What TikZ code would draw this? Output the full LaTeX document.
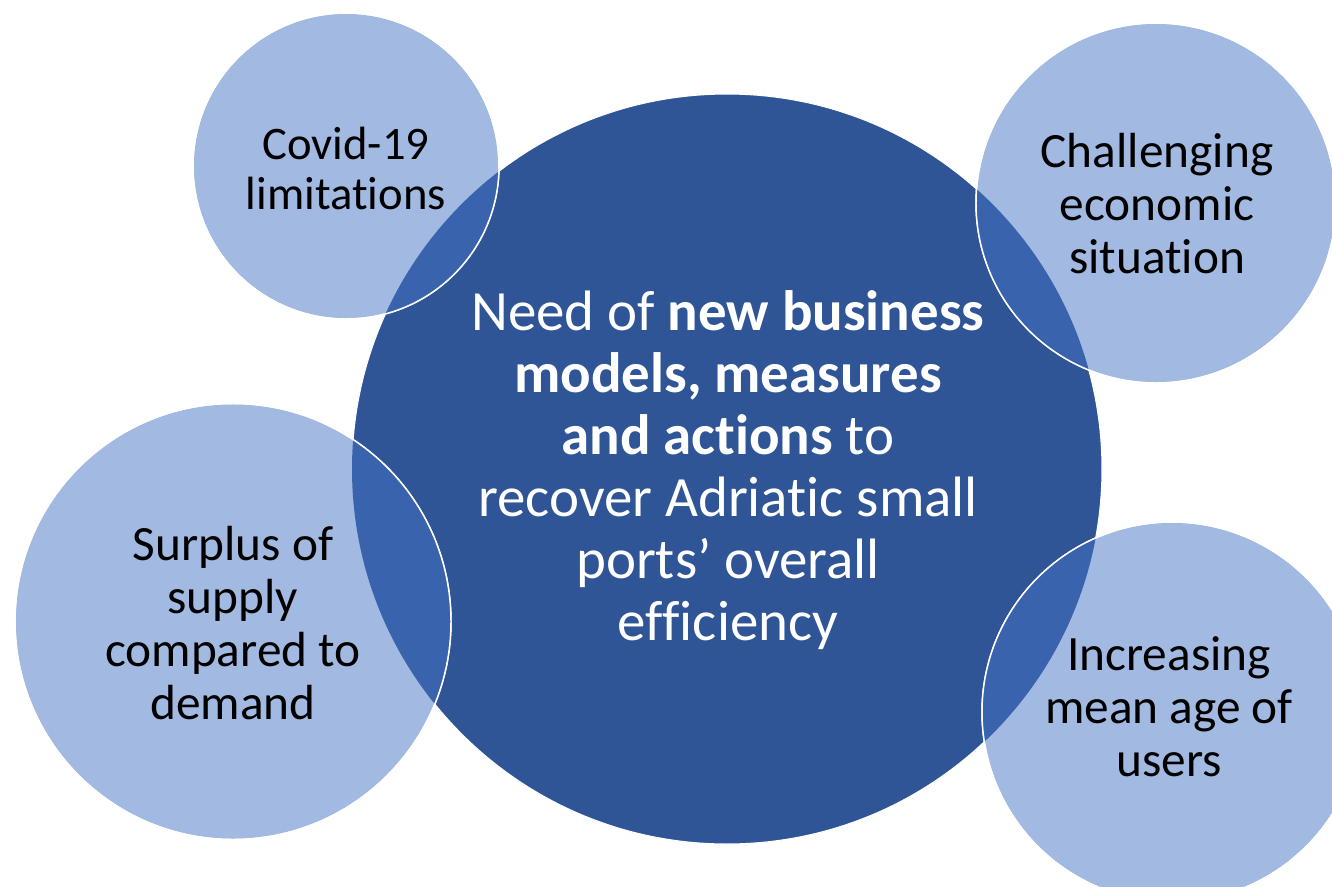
\documentclass[tikz,border=0pt]{standalone}
\usepackage{fontspec}
\setmainfont{Carlito}[Ligatures={NoCommon,NoContextual},RawFeature={-clig;-dlig}]
\definecolor{darkblue}{HTML}{2F5597}
\definecolor{lightblue}{HTML}{A2B9E1}
\definecolor{midblue}{HTML}{3A63AE}
\begin{document}
\begin{tikzpicture}[x=0.75pt,y=-0.75pt,
  bigcirc/.style={circle, fill=darkblue, draw=white, line width=0.8pt, inner sep=0pt},
  smallcirc/.style={circle, fill=lightblue, draw=white, line width=1.1pt, inner sep=0pt},
  rim/.style={draw=white, line width=1.1pt},
  smalltext/.style={align=center, text=black, font=\fontsize{37}{39.75}\selectfont},
  bigtext/.style={align=center, text=white, font=\fontsize{42.7}{46.5}\selectfont}]
\useasboundingbox (0,0) rectangle (1332,886);
\clip (0,0) rectangle (1332,886);
% main circle
\node[bigcirc, minimum size=562.5pt] (cmain) at (727,469) {};
% small circles
\node[smallcirc, minimum size=229.5pt] (ccovid) at (346,166) {};
\node[smallcirc, minimum size=270pt] (cchall) at (1156,203) {};
\node[smallcirc, minimum size=327pt] (csurp) at (233,621.5) {};
\node[smallcirc, minimum size=285pt] (cincr) at (1172,712) {};
% overlaps
\begin{scope}
  \clip (ccovid.center) circle (114.75pt);
  \fill[midblue] (cmain.center) circle (281.25pt);
\end{scope}
\begin{scope}
  \clip (cchall.center) circle (135pt);
  \fill[midblue] (cmain.center) circle (281.25pt);
\end{scope}
\begin{scope}
  \clip (csurp.center) circle (163.5pt);
  \fill[midblue] (cmain.center) circle (281.25pt);
\end{scope}
\begin{scope}
  \clip (cincr.center) circle (142.5pt);
  \fill[midblue] (cmain.center) circle (281.25pt);
\end{scope}
\draw[rim] (ccovid.center) circle (114.75pt);
\draw[rim] (cchall.center) circle (135pt);
\draw[rim] (csurp.center) circle (163.5pt);
\draw[rim] (cincr.center) circle (142.5pt);
% texts
\node[bigtext] (tmain) at (728,470) {Need of \textbf{new business}\\\textbf{models, measures}\\\textbf{and actions} to\\recover Adriatic small\\ports’ overall\\efficiency};
\node[smalltext, font=\fontsize{35}{37.5}\selectfont] (tcovid) at (346,168) {Covid-19\\limitations};
\node[smalltext] (tchall) at (1157,204) {Challenging\\economic\\situation};
\node[smalltext] (tsurp) at (233,623) {Surplus of\\supply\\compared to\\demand};
\node[smalltext] (tincr) at (1169,707) {Increasing\\mean age of\\users};
\end{tikzpicture}
\end{document}
